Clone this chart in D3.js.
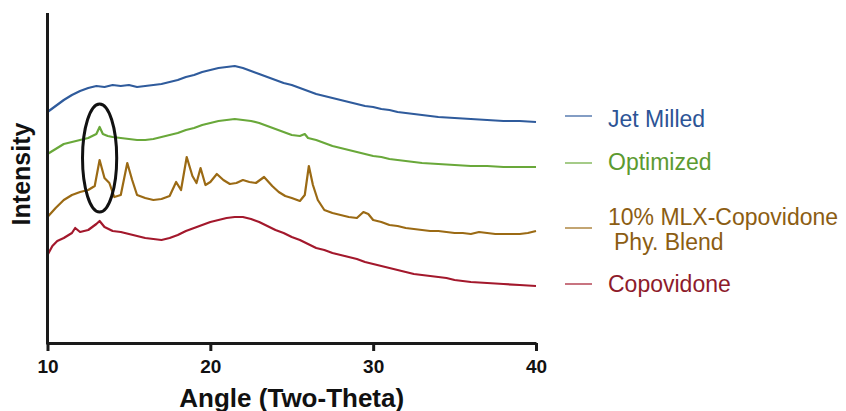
<!DOCTYPE html>
<html>
<head>
<meta charset="utf-8">
<script src="https://cdn.jsdelivr.net/npm/d3@7"></script>
<style>
  body { margin: 0; background: #fff; }
  svg { display: block; font-family: "Liberation Sans", Arial, sans-serif; }
</style>
</head>
<body>
<div id="chart"></div>
<script>
// XRD patterns, intensity in arbitrary (offset) units
var jetAngle = [10,10.5,11,11.5,12,12.5,13,13.5,14,14.5,15,15.5,16,16.5,17,17.5,18,18.5,19,19.5,20,20.5,21,21.5,22,22.5,23,23.5,24,24.5,25,25.5,26,26.5,27,27.5,28,28.5,29,29.5,30,30.5,31,31.5,32,32.5,33,33.5,34,34.5,35,35.5,36,36.5,37,37.5,38,38.5,39,39.5,40];
var jetMilled = [231,237,243,248,252,255,257,256,258,257,258,256,257,258,259,261,263,266,268,271,273,275,276,277,275,272,269,266,263,260,258,255,252,249,247,245,243,241,239,237,236,234,233,231,230,229,228,227,226,225.5,225,224.5,224,223.5,223,222.5,222,222,222,221.5,221];

var optAngle = [10,10.5,11,11.5,12,12.5,13,13.2,13.4,13.7,14,14.5,15,15.5,16,16.5,17,17.5,18,18.5,19,19.5,20,20.5,21,21.5,22,22.5,23,23.5,24,24.5,25,25.5,25.8,26,26.5,27,27.5,28,28.5,29,29.5,30,30.5,31,31.5,32,32.5,33,33.5,34,35,36,37,38,39,40];
var optimized = [189,194,199,201,203,205,209,216,209,207,206,205,204,203,203,204,206,208,210,213,215,218,220,222,223,224,223,222,220,217,214,211,208,207,209,205,203,200,197,195,193,191,189,187,186,184,183,182,181,180,179.5,179,178,177,177,176,176,176];

var blendAngle = [10,10.5,11,11.5,12,12.5,12.9,13.2,13.5,13.8,14.1,14.5,14.9,15.2,15.5,16,16.5,17,17.5,17.9,18.2,18.55,18.9,19.15,19.4,19.7,20,20.4,20.8,21.2,21.6,22,22.4,22.8,23.3,23.8,24.2,24.6,25,25.5,25.8,26.05,26.3,26.6,27,27.5,28,28.5,29,29.4,29.7,30,30.5,31,31.5,32,32.5,33,33.5,34,34.5,35,35.5,36,36.5,37,37.5,38,38.5,39,39.5,40];
var blend = [126,135,143,148,151,153,157,183,165,160,146,148,180,163,148,145,143,144,147,161,153,186,167,160,175,158,161,169,163,159,160,163,161,160,166,157,151,147,145,142,148,177,158,143,133,130,128,126,125,131,129,123,121,118,117,115,114,113,112,112,111,110,110,109,111,110,109,109,109,109,110,112];

var copoAngle = [10,10.3,10.6,11,11.5,11.7,12,12.5,13,13.2,13.5,14,14.5,15,15.5,16,16.5,17,17.5,18,18.5,19,19.5,20,20.5,21,21.5,22,22.5,23,23.5,24,24.5,25,25.5,26,26.5,27,27.5,28,28.5,29,29.5,30,30.5,31,31.5,32,32.5,33,33.5,34,34.5,35,35.5,36,37,38,39,40];
var copovidone = [88,97,102,105,110,115,111,113,119,122,116,112,111,109,107,105,104,103,105,108,112,115,118,121,123,125,126,126,124,121,117,113,110,106,103,99,95,93,90,88,86,84,81,79,77,75,73,71,69,68,67,66,65,63,62,61,60,59,58,57];

var seriesNames = ["Jet Milled", "Optimized", "10% MLX-Copovidone", "Copovidone"];
var lineColors = ["#2f5b9c", "#69a83a", "#9b6a14", "#a3182c"];
var textColors = ["#2d5496", "#5c9a30", "#8c5d12", "#8e1b2b"];
var xTicks = [10, 20, 30, 40];

var series = [
  {name: seriesNames[0], x: jetAngle, y: jetMilled},
  {name: seriesNames[1], x: optAngle, y: optimized},
  {name: seriesNames[2], x: blendAngle, y: blend},
  {name: seriesNames[3], x: copoAngle, y: copovidone}
];

var width = 846, height = 411;
var margin = {left: 47.5, top: 13, bottom: 68};

var svg = d3.select("#chart").append("svg")
  .attr("width", width)
  .attr("height", height);

var x = d3.scaleLinear().domain([10, 40]).range([margin.left, 536]);
var y = d3.scaleLinear().domain([0, 330]).range([height - margin.bottom, margin.top]);

var line = d3.line()
  .x(function(d) { return x(d[0]); })
  .y(function(d) { return y(d[1]); });

series.forEach(function(s, i) {
  var pts = s.x.map(function(a, j) { return [a, s.y[j]]; });
  svg.append("path")
    .attr("d", line(pts))
    .attr("fill", "none")
    .attr("stroke", lineColors[i])
    .attr("stroke-width", 2.2)
    .attr("stroke-linejoin", "round");
});

// x axis
var xAxis = svg.append("g")
  .attr("transform", "translate(0," + y(0) + ")")
  .call(d3.axisBottom(x).tickValues(xTicks).tickSize(8).tickSizeOuter(0).tickFormat(d3.format("d")));
xAxis.select(".domain").attr("stroke", "#1a1a1a").attr("stroke-width", 3);
xAxis.selectAll(".tick line").attr("stroke", "#1a1a1a").attr("stroke-width", 3);
xAxis.selectAll(".tick text")
  .attr("y", 17)
  .attr("fill", "#111")
  .style("font-size", "19px")
  .style("font-weight", "bold")
  .style("font-family", "'Liberation Sans', Arial, sans-serif");

// y axis: only the spine
svg.append("line")
  .attr("x1", x(10)).attr("x2", x(10))
  .attr("y1", y(330)).attr("y2", y(0) + 1.5)
  .attr("stroke", "#1a1a1a")
  .attr("stroke-width", 3);

svg.append("text")
  .attr("x", x(25))
  .attr("y", 407)
  .attr("text-anchor", "middle")
  .style("font-size", "26px")
  .style("font-weight", "bold")
  .attr("fill", "#111")
  .text("Angle (Two-Theta)");

svg.append("text")
  .attr("transform", "translate(30," + 174 + ") rotate(-90)")
  .attr("text-anchor", "middle")
  .style("font-size", "25px")
  .style("font-weight", "bold")
  .attr("fill", "#111")
  .text("Intensity");

// highlight ellipse round the 13 deg reflection
svg.append("ellipse")
  .attr("cx", x(13.2))
  .attr("cy", y(185))
  .attr("rx", x(14.25) - x(13.2))
  .attr("ry", 54)
  .attr("fill", "none")
  .attr("stroke", "#111")
  .attr("stroke-width", 3);

// legend
var swatchY = [116, 163, 228, 284];
var labelY = [127, 170, 225, 292];
var leg = svg.append("g");
seriesNames.forEach(function(n, i) {
  leg.append("line")
    .attr("x1", 565).attr("x2", 592)
    .attr("y1", swatchY[i]).attr("y2", swatchY[i])
    .attr("stroke", lineColors[i])
    .attr("stroke-width", 1.2);
  leg.append("text")
    .attr("x", 608)
    .attr("y", labelY[i])
    .attr("fill", textColors[i])
    .style("font-size", "23px")
    .text(n);
});
leg.append("text")
  .attr("x", 614)
  .attr("y", 250)
  .attr("fill", textColors[2])
  .style("font-size", "23px")
  .text("Phy. Blend");
</script>
</body>
</html>
